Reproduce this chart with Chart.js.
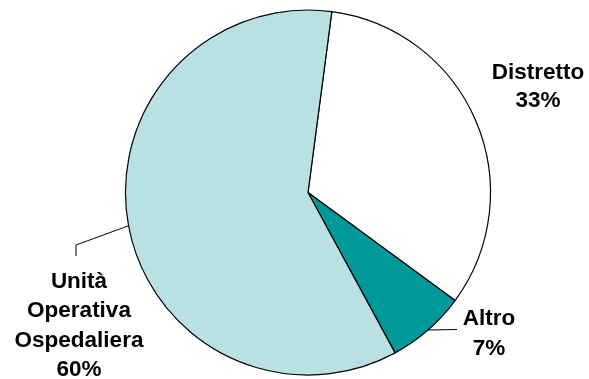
<!DOCTYPE html>
<html>
<head>
<meta charset="utf-8">
<title>Distribuzione</title>
<script src="https://cdn.jsdelivr.net/npm/chart.js@4/dist/chart.umd.min.js"></script>
<style>
    body { margin: 0; background: #fff; }
    #wrap { width: 589px; height: 379px; }
</style>
</head>
<body>
<div id="wrap"><canvas id="pie" width="589" height="379"></canvas></div>
<script>
/**
 * Dati
 */
const categories = ["Distretto", "Altro", "Unità Operativa Ospedaliera"];
const values = [33, 7, 60];
const labelLines = [["Distretto"], ["Altro"], ["Unità", "Operativa", "Ospedaliera"]];
const sliceColors = ["#ffffff", "#009999", "#b9e0e3"];

/**
 * Label placement (centre x, first baseline, line height) and leader lines
 */
const labelPos = [
    { x: 538, y: 78.5, lh: 28.5 },
    { x: 489, y: 324.5, lh: 30.5 },
    { x: 79, y: 287.5, lh: 29.6 }
];
const leaders = [
    null,
    [[457, 329.5]],
    [[76, 245], [76, 256]]
];

const pieLabels = {
    id: 'pieLabels',
    afterDraw(chart) {
        const ctx = chart.ctx;
        const arcs = chart.getDatasetMeta(0).data;
        ctx.save();

        // leader lines from the middle of the slice edge
        ctx.strokeStyle = '#000';
        ctx.lineWidth = 1;
        arcs.forEach(function (arc, i) {
            if (!leaders[i]) return;
            const p = arc.getProps(['x', 'y', 'startAngle', 'endAngle', 'outerRadius'], true);
            const mid = (p.startAngle + p.endAngle) / 2;
            ctx.beginPath();
            ctx.moveTo(p.x + Math.cos(mid) * p.outerRadius, p.y + Math.sin(mid) * p.outerRadius);
            leaders[i].forEach(function (pt) { ctx.lineTo(pt[0], pt[1]); });
            ctx.stroke();
        });

        // category name + percentage
        ctx.fillStyle = '#000';
        ctx.font = 'bold 22.5px "Liberation Sans", Arial, sans-serif';
        ctx.textAlign = 'center';
        ctx.textBaseline = 'alphabetic';
        const total = values.reduce(function (a, b) { return a + b; }, 0);
        labelLines.forEach(function (lines, i) {
            const pos = labelPos[i];
            const text = lines.concat([Math.round(values[i] / total * 100) + '%']);
            text.forEach(function (t, k) {
                ctx.fillText(t, pos.x, pos.y + k * pos.lh);
            });
        });
        ctx.restore();
    }
};

new Chart(document.getElementById('pie'), {
    type: 'pie',
    data: {
        labels: categories,
        datasets: [{
            data: values,
            backgroundColor: sliceColors,
            borderColor: '#000',
            borderWidth: 1.2,
            radius: 182.5
        }]
    },
    options: {
        responsive: false,
        animation: false,
        rotation: 7.5,
        layout: { padding: { left: 27, right: 0, top: 10, bottom: 4 } },
        plugins: {
            legend: { display: false },
            tooltip: { enabled: false }
        }
    },
    plugins: [pieLabels]
});
</script>
</body>
</html>
